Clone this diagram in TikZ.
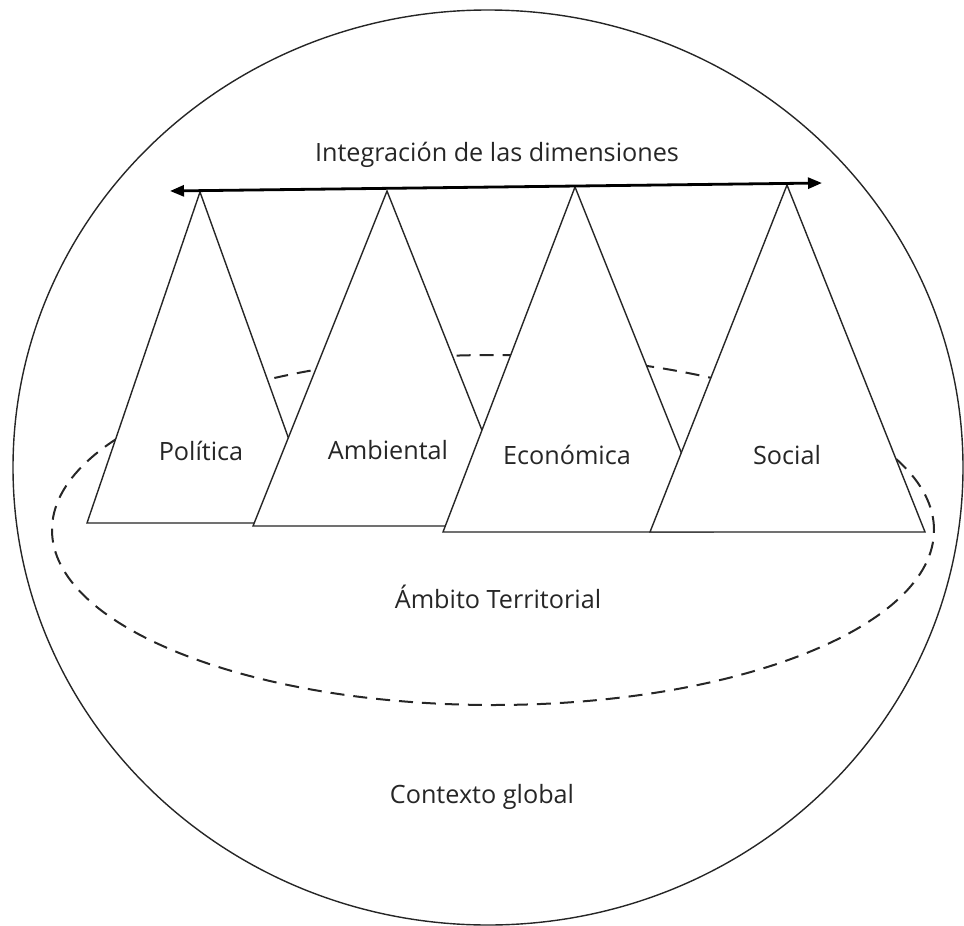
\documentclass[tikz,border=0pt]{standalone}
\usepackage{fontspec}
\setmainfont{Open Sans}
\usetikzlibrary{arrows.meta}
\begin{document}
\begin{tikzpicture}[x=0.5pt,y=-0.5pt,
  dim/.style={draw=black!85,line width=0.7pt,fill=white},
  lbl/.style={font=\fontsize{12.6}{14}\selectfont,text=black!85,inner sep=0pt},
  ambit/.style={draw=black!85,line width=1pt,dash pattern=on 7pt off 4.5pt},
  flow/.style={{Triangle[length=7pt,width=5.5pt]}-{Triangle[length=7pt,width=5.5pt]},line width=1.4pt}]
\useasboundingbox (0,0) rectangle (964,926);
% global context and territory
\draw[draw=black!85,line width=0.7pt] (488,467.5) ellipse [x radius=237.5pt,y radius=228.75pt];
\draw[ambit] (493,530) ellipse [x radius=220.5pt,y radius=87.5pt];
% the four dimensions
\draw[dim] (200,192) -- (87,523) -- (319,523) -- cycle;
\draw[dim] (387,191) -- (253,526) -- (520,526) -- cycle;
\draw[dim] (575,187) -- (443,532) -- (713,532) -- cycle;
\draw[dim] (787,185) -- (650,532) -- (925,532) -- cycle;
\coordinate (arrowL) at (170,191);
\coordinate (arrowR) at (822,183);
\draw[flow] (arrowL) -- (arrowR);
\node[lbl] (integ) at (497,155) {Integración de las dimensiones};
\node[lbl] (politica) at (201,451) {Política};
\node[lbl] (ambiental) at (388,450) {Ambiental};
\node[lbl] (economica) at (567,455) {Económica};
\node[lbl] (social) at (787,455) {Social};
\node[lbl] (ambito) at (498,597) {Ámbito Territorial};
\node[lbl] (contexto) at (482,797) {Contexto global};
\end{tikzpicture}
\end{document}
